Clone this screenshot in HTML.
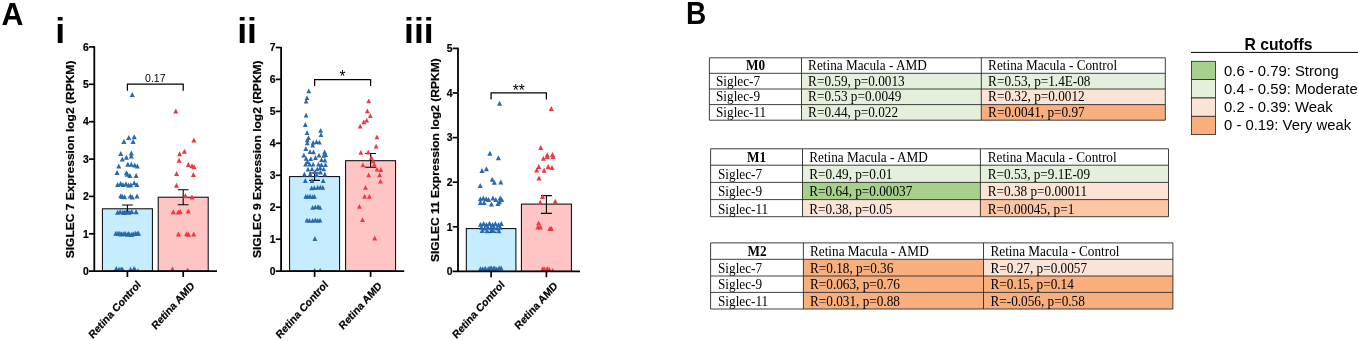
<!DOCTYPE html>
<html><head><meta charset="utf-8"><title>Figure</title>
<style>
html,body{margin:0;padding:0;background:#fff}
body{width:1358px;height:341px;overflow:hidden}
svg{display:block}
text{font-family:"Liberation Sans",Arial,Helvetica,sans-serif;fill:#000}
.cb{stroke:#000;stroke-width:.2px}
.ser{font-family:"Liberation Serif","Times New Roman",Times,serif}
</style></head><body>
<svg width="1358" height="341" viewBox="0 0 1358 341">
<defs><clipPath id="clip94"><rect x="0" y="0" width="700" height="271.2"/></clipPath><clipPath id="clip281"><rect x="0" y="0" width="700" height="271.1"/></clipPath><clipPath id="clip458"><rect x="0" y="0" width="700" height="271.4"/></clipPath></defs>
<rect width="1358" height="341" fill="#fff"/>

<text transform="translate(1.6 24.5) scale(1 1.04)" font-size="30.3" font-weight="bold">A</text>
<text x="55.2" y="43.2" font-size="35.6" font-weight="bold">i</text>
<text x="237.2" y="43.2" font-size="35.6" font-weight="bold">ii</text>
<text x="404.0" y="43.2" font-size="35.6" font-weight="bold">iii</text>
<text transform="translate(685.9 24.45) scale(1 1.12)" font-size="28.1" font-weight="bold">B</text>
<rect x="102.4" y="208.8" width="50.0" height="62.4" fill="#c6ecff" stroke="#000" stroke-width="1.0"/>
<rect x="158.2" y="197.2" width="50.0" height="74.0" fill="#ffc4c4" stroke="#000" stroke-width="1.0"/>
<path d="M127.4 212.1V205.0M122.0 205.0H132.8M122.0 212.1H132.8" stroke="#000" stroke-width="1.1" fill="none"/>
<path d="M183.2 204.7V189.7M177.8 189.7H188.6M177.8 204.7H188.6" stroke="#000" stroke-width="1.1" fill="none"/>
<g clip-path="url(#clip94)">
<path d="M129.75 97.12L134.85 97.12L132.30 92.08Z" fill="#2969ad"/>
<path d="M126.15 140.12L131.25 140.12L128.70 135.08Z" fill="#2969ad"/>
<path d="M131.75 139.22L136.85 139.22L134.30 134.18Z" fill="#2969ad"/>
<path d="M121.35 144.12L126.45 144.12L123.90 139.08Z" fill="#2969ad"/>
<path d="M130.55 144.12L135.65 144.12L133.10 139.08Z" fill="#2969ad"/>
<path d="M118.25 155.92L123.35 155.92L120.80 150.88Z" fill="#2969ad"/>
<path d="M128.75 155.62L133.85 155.62L131.30 150.58Z" fill="#2969ad"/>
<path d="M123.85 159.82L128.95 159.82L126.40 154.78Z" fill="#2969ad"/>
<path d="M119.75 161.62L124.85 161.62L122.30 156.58Z" fill="#2969ad"/>
<path d="M128.75 158.62L133.85 158.62L131.30 153.58Z" fill="#2969ad"/>
<path d="M116.25 168.62L121.35 168.62L118.80 163.58Z" fill="#2969ad"/>
<path d="M125.25 166.82L130.35 166.82L127.80 161.78Z" fill="#2969ad"/>
<path d="M128.75 166.82L133.85 166.82L131.30 161.78Z" fill="#2969ad"/>
<path d="M132.15 167.42L137.25 167.42L134.70 162.38Z" fill="#2969ad"/>
<path d="M134.75 168.62L139.85 168.62L137.30 163.58Z" fill="#2969ad"/>
<path d="M114.55 174.92L119.65 174.92L117.10 169.88Z" fill="#2969ad"/>
<path d="M123.85 175.32L128.95 175.32L126.40 170.28Z" fill="#2969ad"/>
<path d="M127.35 177.92L132.45 177.92L129.90 172.88Z" fill="#2969ad"/>
<path d="M133.55 177.92L138.65 177.92L136.10 172.88Z" fill="#2969ad"/>
<path d="M124.75 176.72L129.85 176.72L127.30 171.68Z" fill="#2969ad"/>
<path d="M115.05 187.12L120.15 187.12L117.60 182.08Z" fill="#2969ad"/>
<path d="M118.05 186.12L123.15 186.12L120.60 181.08Z" fill="#2969ad"/>
<path d="M120.45 186.92L125.55 186.92L123.00 181.88Z" fill="#2969ad"/>
<path d="M123.45 186.32L128.55 186.32L126.00 181.28Z" fill="#2969ad"/>
<path d="M128.25 187.32L133.35 187.32L130.80 182.28Z" fill="#2969ad"/>
<path d="M131.65 185.32L136.75 185.32L134.20 180.28Z" fill="#2969ad"/>
<path d="M134.35 187.12L139.45 187.12L136.90 182.08Z" fill="#2969ad"/>
<path d="M125.95 187.52L131.05 187.52L128.50 182.48Z" fill="#2969ad"/>
<path d="M118.25 198.22L123.35 198.22L120.80 193.18Z" fill="#2969ad"/>
<path d="M122.05 199.32L127.15 199.32L124.60 194.28Z" fill="#2969ad"/>
<path d="M127.75 198.62L132.85 198.62L130.30 193.58Z" fill="#2969ad"/>
<path d="M129.65 199.42L134.75 199.42L132.20 194.38Z" fill="#2969ad"/>
<path d="M134.45 198.42L139.55 198.42L137.00 193.38Z" fill="#2969ad"/>
<path d="M119.95 199.02L125.05 199.02L122.50 193.98Z" fill="#2969ad"/>
<path d="M115.05 214.72L120.15 214.72L117.60 209.68Z" fill="#2969ad"/>
<path d="M117.65 214.12L122.75 214.12L120.20 209.08Z" fill="#2969ad"/>
<path d="M120.35 214.82L125.45 214.82L122.90 209.78Z" fill="#2969ad"/>
<path d="M123.85 214.02L128.95 214.02L126.40 208.98Z" fill="#2969ad"/>
<path d="M126.45 214.72L131.55 214.72L129.00 209.68Z" fill="#2969ad"/>
<path d="M129.15 213.92L134.25 213.92L131.70 208.88Z" fill="#2969ad"/>
<path d="M133.55 214.32L138.65 214.32L136.10 209.28Z" fill="#2969ad"/>
<path d="M121.95 214.92L127.05 214.92L124.50 209.88Z" fill="#2969ad"/>
<path d="M113.27 235.84L118.37 235.84L115.82 230.79Z" fill="#2969ad"/>
<path d="M115.50 235.73L120.60 235.73L118.05 230.68Z" fill="#2969ad"/>
<path d="M117.29 236.14L122.39 236.14L119.84 231.09Z" fill="#2969ad"/>
<path d="M118.71 236.33L123.81 236.33L121.26 231.29Z" fill="#2969ad"/>
<path d="M120.59 236.23L125.69 236.23L123.14 231.18Z" fill="#2969ad"/>
<path d="M122.52 235.75L127.62 235.75L125.07 230.70Z" fill="#2969ad"/>
<path d="M124.77 236.78L129.87 236.78L127.32 231.73Z" fill="#2969ad"/>
<path d="M126.37 235.94L131.47 235.94L128.92 230.89Z" fill="#2969ad"/>
<path d="M128.78 236.95L133.88 236.95L131.33 231.90Z" fill="#2969ad"/>
<path d="M130.63 236.18L135.73 236.18L133.18 231.13Z" fill="#2969ad"/>
<path d="M132.93 235.69L138.03 235.69L135.48 230.64Z" fill="#2969ad"/>
<path d="M134.71 236.03L139.81 236.03L137.26 230.98Z" fill="#2969ad"/>
<path d="M135.89 235.79L140.99 235.79L138.44 230.74Z" fill="#2969ad"/>
<path d="M113.75 271.12L118.85 271.12L116.30 266.08Z" fill="#2969ad"/>
<path d="M116.45 271.82L121.55 271.82L119.00 266.78Z" fill="#2969ad"/>
<path d="M118.65 271.52L123.75 271.52L121.20 266.48Z" fill="#2969ad"/>
<path d="M120.05 272.12L125.15 272.12L122.60 267.08Z" fill="#2969ad"/>
<path d="M127.95 271.82L133.05 271.82L130.50 266.78Z" fill="#2969ad"/>
<path d="M131.45 271.12L136.55 271.12L134.00 266.08Z" fill="#2969ad"/>
<path d="M132.45 271.92L137.55 271.92L135.00 266.88Z" fill="#2969ad"/>
<path d="M135.45 273.32L140.55 273.32L138.00 268.28Z" fill="#2969ad"/>
<path d="M173.25 113.42L178.35 113.42L175.80 108.38Z" fill="#ee3842"/>
<path d="M191.35 142.42L196.45 142.42L193.90 137.38Z" fill="#ee3842"/>
<path d="M181.85 153.72L186.95 153.72L184.40 148.68Z" fill="#ee3842"/>
<path d="M177.05 156.32L182.15 156.32L179.60 151.28Z" fill="#ee3842"/>
<path d="M176.55 162.72L181.65 162.72L179.10 157.68Z" fill="#ee3842"/>
<path d="M185.85 166.92L190.95 166.92L188.40 161.88Z" fill="#ee3842"/>
<path d="M189.45 168.32L194.55 168.32L192.00 163.28Z" fill="#ee3842"/>
<path d="M191.55 169.22L196.65 169.22L194.10 164.18Z" fill="#ee3842"/>
<path d="M174.05 175.92L179.15 175.92L176.60 170.88Z" fill="#ee3842"/>
<path d="M190.85 177.12L195.95 177.12L193.40 172.08Z" fill="#ee3842"/>
<path d="M173.95 187.72L179.05 187.72L176.50 182.68Z" fill="#ee3842"/>
<path d="M182.75 198.32L187.85 198.32L185.30 193.28Z" fill="#ee3842"/>
<path d="M189.45 199.52L194.55 199.52L192.00 194.48Z" fill="#ee3842"/>
<path d="M170.75 214.22L175.85 214.22L173.30 209.18Z" fill="#ee3842"/>
<path d="M175.65 214.42L180.75 214.42L178.20 209.38Z" fill="#ee3842"/>
<path d="M177.65 213.92L182.75 213.92L180.20 208.88Z" fill="#ee3842"/>
<path d="M185.75 213.52L190.85 213.52L188.30 208.48Z" fill="#ee3842"/>
<path d="M175.85 236.52L180.95 236.52L178.40 231.48Z" fill="#ee3842"/>
<path d="M184.05 236.32L189.15 236.32L186.60 231.28Z" fill="#ee3842"/>
<path d="M185.95 236.72L191.05 236.72L188.50 231.68Z" fill="#ee3842"/>
<path d="M191.15 236.42L196.25 236.42L193.70 231.38Z" fill="#ee3842"/>
<path d="M169.85 271.52L174.95 271.52L172.40 266.48Z" fill="#ee3842"/>
<path d="M185.15 272.42L190.25 272.42L187.70 267.38Z" fill="#ee3842"/>
</g>
<path d="M94.3 46.3V271.9" stroke="#000" stroke-width="1.8" fill="none"/>
<path d="M89.0 271.2H217.0" stroke="#000" stroke-width="1.8" fill="none"/>
<text transform="translate(88.8 274.9) scale(1 1.11)" text-anchor="end" font-size="10.4" font-weight="bold" class="cb">0</text>
<path d="M89.0 233.8H94.3" stroke="#000" stroke-width="1.7"/>
<text transform="translate(88.8 237.5) scale(1 1.11)" text-anchor="end" font-size="10.4" font-weight="bold" class="cb">1</text>
<path d="M89.0 196.4H94.3" stroke="#000" stroke-width="1.7"/>
<text transform="translate(88.8 200.1) scale(1 1.11)" text-anchor="end" font-size="10.4" font-weight="bold" class="cb">2</text>
<path d="M89.0 159.1H94.3" stroke="#000" stroke-width="1.7"/>
<text transform="translate(88.8 162.8) scale(1 1.11)" text-anchor="end" font-size="10.4" font-weight="bold" class="cb">3</text>
<path d="M89.0 121.7H94.3" stroke="#000" stroke-width="1.7"/>
<text transform="translate(88.8 125.4) scale(1 1.11)" text-anchor="end" font-size="10.4" font-weight="bold" class="cb">4</text>
<path d="M89.0 84.3H94.3" stroke="#000" stroke-width="1.7"/>
<text transform="translate(88.8 88.0) scale(1 1.11)" text-anchor="end" font-size="10.4" font-weight="bold" class="cb">5</text>
<path d="M89.0 46.9H94.3" stroke="#000" stroke-width="1.7"/>
<text transform="translate(88.8 50.6) scale(1 1.11)" text-anchor="end" font-size="10.4" font-weight="bold" class="cb">6</text>
<path d="M127.4 271.2V277.0" stroke="#000" stroke-width="1.7"/>
<path d="M183.2 271.2V277.0" stroke="#000" stroke-width="1.7"/>
<text transform="translate(141.4 285.2) scale(1 1.11) rotate(-45)" text-anchor="end" font-size="10" font-weight="bold" class="cb">Retina Control</text>
<text transform="translate(195.0 286.6) scale(1 1.11) rotate(-45)" text-anchor="end" font-size="10" font-weight="bold" class="cb">Retina AMD</text>
<text transform="translate(74.0 60.6) rotate(-90) scale(1.135 1)" text-anchor="end" font-size="10.6" font-weight="bold" class="cb">SIGLEC 7 Expression log2 (RPKM)</text>
<path d="M127.4 90.8V84.2H183.2V90.8" stroke="#000" stroke-width="1.25" fill="none"/>
<text transform="translate(155.3 82.0) scale(1 1.08)" text-anchor="middle" font-size="10.5">0.17</text>
<rect x="289.6" y="176.6" width="50.0" height="94.5" fill="#c6ecff" stroke="#000" stroke-width="1.0"/>
<rect x="345.6" y="160.7" width="50.0" height="110.4" fill="#ffc4c4" stroke="#000" stroke-width="1.0"/>
<path d="M314.6 180.4V173.0M309.2 173.0H320.0M309.2 180.4H320.0" stroke="#000" stroke-width="1.1" fill="none"/>
<path d="M370.6 167.3V153.5M365.2 153.5H376.0M365.2 167.3H376.0" stroke="#000" stroke-width="1.1" fill="none"/>
<g clip-path="url(#clip281)">
<path d="M306.40 93.28L311.20 93.28L308.80 88.52Z" fill="#2969ad"/>
<path d="M304.60 99.98L309.40 99.98L307.00 95.22Z" fill="#2969ad"/>
<path d="M303.70 103.48L308.50 103.48L306.10 98.72Z" fill="#2969ad"/>
<path d="M303.70 117.58L308.50 117.58L306.10 112.82Z" fill="#2969ad"/>
<path d="M302.90 126.88L307.70 126.88L305.30 122.12Z" fill="#2969ad"/>
<path d="M304.70 135.08L309.50 135.08L307.10 130.32Z" fill="#2969ad"/>
<path d="M318.20 132.68L323.00 132.68L320.60 127.92Z" fill="#2969ad"/>
<path d="M318.60 137.08L323.40 137.08L321.00 132.32Z" fill="#2969ad"/>
<path d="M306.10 139.98L310.90 139.98L308.50 135.22Z" fill="#2969ad"/>
<path d="M304.90 142.28L309.70 142.28L307.30 137.52Z" fill="#2969ad"/>
<path d="M304.90 145.28L309.70 145.28L307.30 140.52Z" fill="#2969ad"/>
<path d="M310.80 144.68L315.60 144.68L313.20 139.92Z" fill="#2969ad"/>
<path d="M314.10 144.08L318.90 144.08L316.50 139.32Z" fill="#2969ad"/>
<path d="M317.00 144.48L321.80 144.48L319.40 139.72Z" fill="#2969ad"/>
<path d="M310.20 147.58L315.00 147.58L312.60 142.82Z" fill="#2969ad"/>
<path d="M303.40 151.08L308.20 151.08L305.80 146.32Z" fill="#2969ad"/>
<path d="M307.60 154.08L312.40 154.08L310.00 149.32Z" fill="#2969ad"/>
<path d="M311.10 154.28L315.90 154.28L313.50 149.52Z" fill="#2969ad"/>
<path d="M322.20 154.18L327.00 154.18L324.60 149.42Z" fill="#2969ad"/>
<path d="M301.40 157.58L306.20 157.58L303.80 152.82Z" fill="#2969ad"/>
<path d="M316.60 157.58L321.40 157.58L319.00 152.82Z" fill="#2969ad"/>
<path d="M321.30 157.68L326.10 157.68L323.70 152.92Z" fill="#2969ad"/>
<path d="M323.30 156.98L328.10 156.98L325.70 152.22Z" fill="#2969ad"/>
<path d="M303.70 160.78L308.50 160.78L306.10 156.02Z" fill="#2969ad"/>
<path d="M308.40 160.98L313.20 160.98L310.80 156.22Z" fill="#2969ad"/>
<path d="M322.50 162.38L327.30 162.38L324.90 157.62Z" fill="#2969ad"/>
<path d="M303.20 166.48L308.00 166.48L305.60 161.72Z" fill="#2969ad"/>
<path d="M307.30 166.48L312.10 166.48L309.70 161.72Z" fill="#2969ad"/>
<path d="M310.80 166.48L315.60 166.48L313.20 161.72Z" fill="#2969ad"/>
<path d="M316.10 166.48L320.90 166.48L318.50 161.72Z" fill="#2969ad"/>
<path d="M319.00 167.08L323.80 167.08L321.40 162.32Z" fill="#2969ad"/>
<path d="M323.10 167.08L327.90 167.08L325.50 162.32Z" fill="#2969ad"/>
<path d="M309.60 171.18L314.40 171.18L312.00 166.42Z" fill="#2969ad"/>
<path d="M314.90 171.18L319.70 171.18L317.30 166.42Z" fill="#2969ad"/>
<path d="M317.80 169.98L322.60 169.98L320.20 165.22Z" fill="#2969ad"/>
<path d="M321.30 171.18L326.10 171.18L323.70 166.42Z" fill="#2969ad"/>
<path d="M302.00 176.38L306.80 176.38L304.40 171.62Z" fill="#2969ad"/>
<path d="M307.80 176.38L312.60 176.38L310.20 171.62Z" fill="#2969ad"/>
<path d="M314.30 176.98L319.10 176.98L316.70 172.22Z" fill="#2969ad"/>
<path d="M322.50 176.38L327.30 176.38L324.90 171.62Z" fill="#2969ad"/>
<path d="M305.10 163.88L309.90 163.88L307.50 159.12Z" fill="#2969ad"/>
<path d="M313.10 159.88L317.90 159.88L315.50 155.12Z" fill="#2969ad"/>
<path d="M319.10 161.98L323.90 161.98L321.50 157.22Z" fill="#2969ad"/>
<path d="M305.60 171.58L310.40 171.58L308.00 166.82Z" fill="#2969ad"/>
<path d="M312.60 173.98L317.40 173.98L315.00 169.22Z" fill="#2969ad"/>
<path d="M318.10 174.58L322.90 174.58L320.50 169.82Z" fill="#2969ad"/>
<path d="M302.90 182.88L307.70 182.88L305.30 178.12Z" fill="#2969ad"/>
<path d="M309.60 182.88L314.40 182.88L312.00 178.12Z" fill="#2969ad"/>
<path d="M320.80 183.08L325.60 183.08L323.20 178.32Z" fill="#2969ad"/>
<path d="M309.21 190.29L314.01 190.29L311.61 185.54Z" fill="#2969ad"/>
<path d="M311.93 190.06L316.73 190.06L314.33 185.31Z" fill="#2969ad"/>
<path d="M315.24 189.85L320.04 189.85L317.64 185.10Z" fill="#2969ad"/>
<path d="M318.00 189.54L322.80 189.54L320.40 184.79Z" fill="#2969ad"/>
<path d="M320.36 189.68L325.16 189.68L322.76 184.93Z" fill="#2969ad"/>
<path d="M303.38 198.70L308.18 198.70L305.78 193.95Z" fill="#2969ad"/>
<path d="M305.29 198.86L310.09 198.86L307.69 194.11Z" fill="#2969ad"/>
<path d="M307.70 198.58L312.50 198.58L310.10 193.82Z" fill="#2969ad"/>
<path d="M310.32 198.97L315.12 198.97L312.72 194.22Z" fill="#2969ad"/>
<path d="M312.04 198.85L316.84 198.85L314.44 194.10Z" fill="#2969ad"/>
<path d="M310.23 209.75L315.03 209.75L312.63 205.00Z" fill="#2969ad"/>
<path d="M312.90 209.16L317.70 209.16L315.30 204.41Z" fill="#2969ad"/>
<path d="M315.61 208.99L320.41 208.99L318.01 204.24Z" fill="#2969ad"/>
<path d="M317.52 209.63L322.32 209.63L319.92 204.88Z" fill="#2969ad"/>
<path d="M304.55 222.56L309.35 222.56L306.95 217.81Z" fill="#2969ad"/>
<path d="M306.98 222.78L311.78 222.78L309.38 218.03Z" fill="#2969ad"/>
<path d="M310.24 222.66L315.04 222.66L312.64 217.91Z" fill="#2969ad"/>
<path d="M312.90 222.35L317.70 222.35L315.30 217.60Z" fill="#2969ad"/>
<path d="M315.26 222.69L320.06 222.69L317.66 217.94Z" fill="#2969ad"/>
<path d="M317.68 222.52L322.48 222.52L320.08 217.77Z" fill="#2969ad"/>
<path d="M312.50 240.88L317.30 240.88L314.90 236.12Z" fill="#2969ad"/>
<path d="M312.20 272.68L317.00 272.68L314.60 267.92Z" fill="#2969ad"/>
<path d="M317.80 272.68L322.60 272.68L320.20 267.92Z" fill="#2969ad"/>
<path d="M366.30 103.18L371.10 103.18L368.70 98.42Z" fill="#ee3842"/>
<path d="M364.90 113.18L369.70 113.18L367.30 108.42Z" fill="#ee3842"/>
<path d="M367.90 118.08L372.70 118.08L370.30 113.32Z" fill="#ee3842"/>
<path d="M364.30 122.48L369.10 122.48L366.70 117.72Z" fill="#ee3842"/>
<path d="M361.40 124.28L366.20 124.28L363.80 119.52Z" fill="#ee3842"/>
<path d="M357.80 128.48L362.60 128.48L360.20 123.72Z" fill="#ee3842"/>
<path d="M374.60 139.28L379.40 139.28L377.00 134.52Z" fill="#ee3842"/>
<path d="M373.70 148.58L378.50 148.58L376.10 143.82Z" fill="#ee3842"/>
<path d="M358.40 154.68L363.20 154.68L360.80 149.92Z" fill="#ee3842"/>
<path d="M365.80 154.38L370.60 154.38L368.20 149.62Z" fill="#ee3842"/>
<path d="M368.90 159.68L373.70 159.68L371.30 154.92Z" fill="#ee3842"/>
<path d="M370.70 163.18L375.50 163.18L373.10 158.42Z" fill="#ee3842"/>
<path d="M360.50 167.18L365.30 167.18L362.90 162.42Z" fill="#ee3842"/>
<path d="M371.90 166.68L376.70 166.68L374.30 161.92Z" fill="#ee3842"/>
<path d="M374.60 171.48L379.40 171.48L377.00 166.72Z" fill="#ee3842"/>
<path d="M378.40 171.98L383.20 171.98L380.80 167.22Z" fill="#ee3842"/>
<path d="M366.30 177.28L371.10 177.28L368.70 172.52Z" fill="#ee3842"/>
<path d="M377.20 177.28L382.00 177.28L379.60 172.52Z" fill="#ee3842"/>
<path d="M378.10 183.58L382.90 183.58L380.50 178.82Z" fill="#ee3842"/>
<path d="M363.10 189.78L367.90 189.78L365.50 185.02Z" fill="#ee3842"/>
<path d="M362.20 198.78L367.00 198.78L364.60 194.02Z" fill="#ee3842"/>
<path d="M367.00 198.78L371.80 198.78L369.40 194.02Z" fill="#ee3842"/>
<path d="M357.00 208.78L361.80 208.78L359.40 204.02Z" fill="#ee3842"/>
<path d="M360.10 221.98L364.90 221.98L362.50 217.22Z" fill="#ee3842"/>
<path d="M372.30 240.38L377.10 240.38L374.70 235.62Z" fill="#ee3842"/>
</g>
<path d="M281.1 46.9V271.8" stroke="#000" stroke-width="1.8" fill="none"/>
<path d="M275.8 271.1H404.2" stroke="#000" stroke-width="1.8" fill="none"/>
<text transform="translate(275.6 274.8) scale(1 1.11)" text-anchor="end" font-size="10.4" font-weight="bold" class="cb">0</text>
<path d="M275.8 239.2H281.1" stroke="#000" stroke-width="1.7"/>
<text transform="translate(275.6 242.9) scale(1 1.11)" text-anchor="end" font-size="10.4" font-weight="bold" class="cb">1</text>
<path d="M275.8 207.2H281.1" stroke="#000" stroke-width="1.7"/>
<text transform="translate(275.6 210.9) scale(1 1.11)" text-anchor="end" font-size="10.4" font-weight="bold" class="cb">2</text>
<path d="M275.8 175.3H281.1" stroke="#000" stroke-width="1.7"/>
<text transform="translate(275.6 179.0) scale(1 1.11)" text-anchor="end" font-size="10.4" font-weight="bold" class="cb">3</text>
<path d="M275.8 143.3H281.1" stroke="#000" stroke-width="1.7"/>
<text transform="translate(275.6 147.0) scale(1 1.11)" text-anchor="end" font-size="10.4" font-weight="bold" class="cb">4</text>
<path d="M275.8 111.4H281.1" stroke="#000" stroke-width="1.7"/>
<text transform="translate(275.6 115.1) scale(1 1.11)" text-anchor="end" font-size="10.4" font-weight="bold" class="cb">5</text>
<path d="M275.8 79.4H281.1" stroke="#000" stroke-width="1.7"/>
<text transform="translate(275.6 83.1) scale(1 1.11)" text-anchor="end" font-size="10.4" font-weight="bold" class="cb">6</text>
<path d="M275.8 47.5H281.1" stroke="#000" stroke-width="1.7"/>
<text transform="translate(275.6 51.2) scale(1 1.11)" text-anchor="end" font-size="10.4" font-weight="bold" class="cb">7</text>
<path d="M314.6 271.1V276.9" stroke="#000" stroke-width="1.7"/>
<path d="M370.6 271.1V276.9" stroke="#000" stroke-width="1.7"/>
<text transform="translate(328.6 285.2) scale(1 1.11) rotate(-45)" text-anchor="end" font-size="10" font-weight="bold" class="cb">Retina Control</text>
<text transform="translate(382.4 286.6) scale(1 1.11) rotate(-45)" text-anchor="end" font-size="10" font-weight="bold" class="cb">Retina AMD</text>
<text transform="translate(261.3 60.4) rotate(-90) scale(1.135 1)" text-anchor="end" font-size="10.6" font-weight="bold" class="cb">SIGLEC 9 Expression log2 (RPKM)</text>
<path d="M314.6 86.1V79.5H370.6V86.1" stroke="#000" stroke-width="1.25" fill="none"/>
<text transform="translate(342.6 82.3) scale(1 1.1)" text-anchor="middle" font-size="15.5">*</text>
<rect x="466.3" y="228.6" width="49.6" height="42.8" fill="#c6ecff" stroke="#000" stroke-width="1.0"/>
<rect x="521.4" y="204.1" width="50.0" height="67.3" fill="#ffc4c4" stroke="#000" stroke-width="1.0"/>
<path d="M491.1 232.2V225.0M485.7 225.0H496.5M485.7 232.2H496.5" stroke="#000" stroke-width="1.1" fill="none"/>
<path d="M546.4 213.4V195.6M541.0 195.6H551.8M541.0 213.4H551.8" stroke="#000" stroke-width="1.1" fill="none"/>
<g clip-path="url(#clip458)">
<path d="M497.05 105.82L502.15 105.82L499.60 100.78Z" fill="#2969ad"/>
<path d="M487.35 155.72L492.45 155.72L489.90 150.68Z" fill="#2969ad"/>
<path d="M495.85 160.32L500.95 160.32L498.40 155.28Z" fill="#2969ad"/>
<path d="M479.45 173.02L484.55 173.02L482.00 167.98Z" fill="#2969ad"/>
<path d="M483.85 171.32L488.95 171.32L486.40 166.28Z" fill="#2969ad"/>
<path d="M489.65 181.82L494.75 181.82L492.20 176.78Z" fill="#2969ad"/>
<path d="M491.75 184.82L496.85 184.82L494.30 179.78Z" fill="#2969ad"/>
<path d="M498.25 184.52L503.35 184.52L500.80 179.48Z" fill="#2969ad"/>
<path d="M477.65 188.02L482.75 188.02L480.20 182.98Z" fill="#2969ad"/>
<path d="M477.85 201.32L482.95 201.32L480.40 196.28Z" fill="#2969ad"/>
<path d="M480.75 200.62L485.85 200.62L483.30 195.58Z" fill="#2969ad"/>
<path d="M483.75 201.32L488.85 201.32L486.30 196.28Z" fill="#2969ad"/>
<path d="M485.95 202.02L491.05 202.02L488.50 196.98Z" fill="#2969ad"/>
<path d="M490.35 200.62L495.45 200.62L492.90 195.58Z" fill="#2969ad"/>
<path d="M493.25 202.02L498.35 202.02L495.80 196.98Z" fill="#2969ad"/>
<path d="M497.65 200.62L502.75 200.62L500.20 195.58Z" fill="#2969ad"/>
<path d="M499.15 202.02L504.25 202.02L501.70 196.98Z" fill="#2969ad"/>
<path d="M477.85 205.02L482.95 205.02L480.40 199.98Z" fill="#2969ad"/>
<path d="M481.55 205.02L486.65 205.02L484.10 199.98Z" fill="#2969ad"/>
<path d="M488.85 206.42L493.95 206.42L491.40 201.38Z" fill="#2969ad"/>
<path d="M495.45 206.02L500.55 206.02L498.00 200.98Z" fill="#2969ad"/>
<path d="M496.95 204.22L502.05 204.22L499.50 199.18Z" fill="#2969ad"/>
<path d="M477.95 226.72L483.05 226.72L480.50 221.68Z" fill="#2969ad"/>
<path d="M481.05 225.92L486.15 225.92L483.60 220.88Z" fill="#2969ad"/>
<path d="M483.85 227.12L488.95 227.12L486.40 222.08Z" fill="#2969ad"/>
<path d="M486.95 225.72L492.05 225.72L489.50 220.68Z" fill="#2969ad"/>
<path d="M490.05 226.92L495.15 226.92L492.60 221.88Z" fill="#2969ad"/>
<path d="M492.85 226.12L497.95 226.12L495.40 221.08Z" fill="#2969ad"/>
<path d="M496.05 227.02L501.15 227.02L498.60 221.98Z" fill="#2969ad"/>
<path d="M498.75 226.02L503.85 226.02L501.30 220.98Z" fill="#2969ad"/>
<path d="M478.85 229.82L483.95 229.82L481.40 224.78Z" fill="#2969ad"/>
<path d="M482.05 230.42L487.15 230.42L484.60 225.38Z" fill="#2969ad"/>
<path d="M485.15 229.52L490.25 229.52L487.70 224.48Z" fill="#2969ad"/>
<path d="M488.35 230.32L493.45 230.32L490.90 225.28Z" fill="#2969ad"/>
<path d="M491.45 229.62L496.55 229.62L494.00 224.58Z" fill="#2969ad"/>
<path d="M494.65 230.42L499.75 230.42L497.20 225.38Z" fill="#2969ad"/>
<path d="M497.65 229.72L502.75 229.72L500.20 224.68Z" fill="#2969ad"/>
<path d="M479.65 232.92L484.75 232.92L482.20 227.88Z" fill="#2969ad"/>
<path d="M484.55 233.32L489.65 233.32L487.10 228.28Z" fill="#2969ad"/>
<path d="M490.65 233.02L495.75 233.02L493.20 227.98Z" fill="#2969ad"/>
<path d="M496.35 233.22L501.45 233.22L498.90 228.18Z" fill="#2969ad"/>
<path d="M477.87 271.36L482.97 271.36L480.42 266.31Z" fill="#2969ad"/>
<path d="M479.91 271.64L485.01 271.64L482.46 266.59Z" fill="#2969ad"/>
<path d="M481.72 271.62L486.82 271.62L484.27 266.57Z" fill="#2969ad"/>
<path d="M482.87 270.98L487.97 270.98L485.42 265.93Z" fill="#2969ad"/>
<path d="M485.65 271.23L490.75 271.23L488.20 266.18Z" fill="#2969ad"/>
<path d="M487.47 270.48L492.57 270.48L490.02 265.43Z" fill="#2969ad"/>
<path d="M488.90 270.67L494.00 270.67L491.45 265.62Z" fill="#2969ad"/>
<path d="M490.84 271.13L495.94 271.13L493.39 266.08Z" fill="#2969ad"/>
<path d="M492.17 270.63L497.27 270.63L494.72 265.58Z" fill="#2969ad"/>
<path d="M494.30 271.61L499.40 271.61L496.85 266.56Z" fill="#2969ad"/>
<path d="M496.65 270.55L501.75 270.55L499.20 265.50Z" fill="#2969ad"/>
<path d="M498.55 270.52L503.65 270.52L501.10 265.47Z" fill="#2969ad"/>
<path d="M548.75 111.02L553.85 111.02L551.30 105.98Z" fill="#ee3842"/>
<path d="M538.25 150.02L543.35 150.02L540.80 144.98Z" fill="#ee3842"/>
<path d="M544.75 157.32L549.85 157.32L547.30 152.28Z" fill="#ee3842"/>
<path d="M549.95 157.02L555.05 157.02L552.50 151.98Z" fill="#ee3842"/>
<path d="M540.85 160.72L545.95 160.72L543.40 155.68Z" fill="#ee3842"/>
<path d="M544.75 158.92L549.85 158.92L547.30 153.88Z" fill="#ee3842"/>
<path d="M550.55 158.92L555.65 158.92L553.10 153.88Z" fill="#ee3842"/>
<path d="M536.25 169.02L541.35 169.02L538.80 163.98Z" fill="#ee3842"/>
<path d="M534.15 172.52L539.25 172.52L536.70 167.48Z" fill="#ee3842"/>
<path d="M541.55 172.72L546.65 172.72L544.10 167.68Z" fill="#ee3842"/>
<path d="M545.65 169.12L550.75 169.12L548.20 164.08Z" fill="#ee3842"/>
<path d="M549.45 170.02L554.55 170.02L552.00 164.98Z" fill="#ee3842"/>
<path d="M536.45 180.42L541.55 180.42L539.00 175.38Z" fill="#ee3842"/>
<path d="M539.95 199.12L545.05 199.12L542.50 194.08Z" fill="#ee3842"/>
<path d="M537.65 204.72L542.75 204.72L540.20 199.68Z" fill="#ee3842"/>
<path d="M552.65 203.82L557.75 203.82L555.20 198.78Z" fill="#ee3842"/>
<path d="M536.15 225.42L541.25 225.42L538.70 220.38Z" fill="#ee3842"/>
<path d="M535.35 229.42L540.45 229.42L537.90 224.38Z" fill="#ee3842"/>
<path d="M537.85 229.42L542.95 229.42L540.40 224.38Z" fill="#ee3842"/>
<path d="M547.35 231.12L552.45 231.12L549.90 226.08Z" fill="#ee3842"/>
<path d="M548.85 231.12L553.95 231.12L551.40 226.08Z" fill="#ee3842"/>
<path d="M540.25 271.12L545.35 271.12L542.80 266.08Z" fill="#ee3842"/>
<path d="M542.05 271.42L547.15 271.42L544.60 266.38Z" fill="#ee3842"/>
<path d="M544.75 270.92L549.85 270.92L547.30 265.88Z" fill="#ee3842"/>
<path d="M546.75 271.82L551.85 271.82L549.30 266.78Z" fill="#ee3842"/>
<path d="M550.05 273.12L555.15 273.12L552.60 268.08Z" fill="#ee3842"/>
</g>
<path d="M458.0 47.8V272.1" stroke="#000" stroke-width="1.8" fill="none"/>
<path d="M452.7 271.4H580.0" stroke="#000" stroke-width="1.8" fill="none"/>
<text transform="translate(452.5 275.1) scale(1 1.11)" text-anchor="end" font-size="10.4" font-weight="bold" class="cb">0</text>
<path d="M452.7 226.8H458.0" stroke="#000" stroke-width="1.7"/>
<text transform="translate(452.5 230.5) scale(1 1.11)" text-anchor="end" font-size="10.4" font-weight="bold" class="cb">1</text>
<path d="M452.7 182.2H458.0" stroke="#000" stroke-width="1.7"/>
<text transform="translate(452.5 185.9) scale(1 1.11)" text-anchor="end" font-size="10.4" font-weight="bold" class="cb">2</text>
<path d="M452.7 137.6H458.0" stroke="#000" stroke-width="1.7"/>
<text transform="translate(452.5 141.3) scale(1 1.11)" text-anchor="end" font-size="10.4" font-weight="bold" class="cb">3</text>
<path d="M452.7 93.0H458.0" stroke="#000" stroke-width="1.7"/>
<text transform="translate(452.5 96.7) scale(1 1.11)" text-anchor="end" font-size="10.4" font-weight="bold" class="cb">4</text>
<path d="M452.7 48.4H458.0" stroke="#000" stroke-width="1.7"/>
<text transform="translate(452.5 52.1) scale(1 1.11)" text-anchor="end" font-size="10.4" font-weight="bold" class="cb">5</text>
<path d="M491.1 271.4V277.2" stroke="#000" stroke-width="1.7"/>
<path d="M546.4 271.4V277.2" stroke="#000" stroke-width="1.7"/>
<text transform="translate(505.1 285.2) scale(1 1.11) rotate(-45)" text-anchor="end" font-size="10" font-weight="bold" class="cb">Retina Control</text>
<text transform="translate(558.2 286.6) scale(1 1.11) rotate(-45)" text-anchor="end" font-size="10" font-weight="bold" class="cb">Retina AMD</text>
<text transform="translate(438.6 58.3) rotate(-90) scale(1.135 1)" text-anchor="end" font-size="10.6" font-weight="bold" class="cb">SIGLEC 11 Expression log2 (RPKM)</text>
<path d="M491.1 99.5V92.9H546.4V99.5" stroke="#000" stroke-width="1.25" fill="none"/>
<text transform="translate(518.8 95.7) scale(1 1.1)" text-anchor="middle" font-size="15.5">**</text>
<rect x="801.5" y="73.3" width="179.8" height="15.7" fill="#e4f0db"/>
<rect x="981.3" y="73.3" width="184.0" height="15.7" fill="#e4f0db"/>
<rect x="801.5" y="89.0" width="179.8" height="15.6" fill="#e4f0db"/>
<rect x="981.3" y="89.0" width="184.0" height="15.6" fill="#fbe4d5"/>
<rect x="801.5" y="104.6" width="179.8" height="15.6" fill="#e4f0db"/>
<rect x="981.3" y="104.6" width="184.0" height="15.6" fill="#f9af7d"/>
<path d="M709.4 57.8H1165.3M709.4 73.3H1165.3M709.4 89.0H1165.3M709.4 104.6H1165.3M709.4 120.2H1165.3M709.4 57.8V120.2M801.5 57.8V120.2M981.3 57.8V120.2M1165.3 57.8V120.2" stroke="#2a2a2a" stroke-width="0.9" fill="none"/>
<text class="ser" transform="translate(755.5 70.1) scale(1 1.16)" text-anchor="middle" font-weight="bold" font-size="13.25">M0</text>
<text class="ser" transform="translate(808.1 70.1) scale(1 1.16)" font-size="13.25">Retina Macula - AMD</text>
<text class="ser" transform="translate(988.1 70.1) scale(1 1.16)" font-size="13.25">Retina Macula - Control</text>
<text class="ser" transform="translate(716 85.8) scale(1 1.16)" font-size="13.25">Siglec-7</text>
<text class="ser" transform="translate(808.1 85.8) scale(1 1.16)" font-size="13.25">R=0.59, p=0.0013</text>
<text class="ser" transform="translate(988.1 85.8) scale(1 1.16)" font-size="13.25">R=0.53, p=1.4E-08</text>
<text class="ser" transform="translate(716 101.4) scale(1 1.16)" font-size="13.25">Siglec-9</text>
<text class="ser" transform="translate(808.1 101.4) scale(1 1.16)" font-size="13.25">R=0.53 p=0.0049</text>
<text class="ser" transform="translate(988.1 101.4) scale(1 1.16)" font-size="13.25">R=0.32, p=0.0012</text>
<text class="ser" transform="translate(716 117.0) scale(1 1.16)" font-size="13.25">Siglec-11</text>
<text class="ser" transform="translate(808.1 117.0) scale(1 1.16)" font-size="13.25">R=0.44, p=0.022</text>
<text class="ser" transform="translate(988.1 117.0) scale(1 1.16)" font-size="13.25">R=0.0041, p=0.97</text>
<rect x="802.5" y="165.2" width="177.9" height="17.2" fill="#e4f0db"/>
<rect x="980.4" y="165.2" width="188.1" height="17.2" fill="#e4f0db"/>
<rect x="802.5" y="182.4" width="177.9" height="17.2" fill="#a8d08d"/>
<rect x="980.4" y="182.4" width="188.1" height="17.2" fill="#fbe4d5"/>
<rect x="802.5" y="199.6" width="177.9" height="17.1" fill="#fbe4d5"/>
<rect x="980.4" y="199.6" width="188.1" height="17.1" fill="#fac6a6"/>
<path d="M710.6 148.8H1168.5M710.6 165.2H1168.5M710.6 182.4H1168.5M710.6 199.6H1168.5M710.6 216.7H1168.5M710.6 148.8V216.7M802.5 148.8V216.7M980.4 148.8V216.7M1168.5 148.8V216.7" stroke="#2a2a2a" stroke-width="0.9" fill="none"/>
<text class="ser" transform="translate(756.5 162.4) scale(1 1.16)" text-anchor="middle" font-weight="bold" font-size="13.25">M1</text>
<text class="ser" transform="translate(809.2 162.4) scale(1 1.16)" font-size="13.25">Retina Macula - AMD</text>
<text class="ser" transform="translate(987.7 162.4) scale(1 1.16)" font-size="13.25">Retina Macula - Control</text>
<text class="ser" transform="translate(718 179.2) scale(1 1.16)" font-size="13.25">Siglec-7</text>
<text class="ser" transform="translate(809.2 179.2) scale(1 1.16)" font-size="13.25">R=0.49, p=0.01</text>
<text class="ser" transform="translate(987.7 179.2) scale(1 1.16)" font-size="13.25">R=0.53, p=9.1E-09</text>
<text class="ser" transform="translate(718 196.4) scale(1 1.16)" font-size="13.25">Siglec-9</text>
<text class="ser" transform="translate(809.2 196.4) scale(1 1.16)" font-size="13.25">R=0.64, p=0.00037</text>
<text class="ser" transform="translate(987.7 196.4) scale(1 1.16)" font-size="13.25">R=0.38 p=0.00011</text>
<text class="ser" transform="translate(718 213.5) scale(1 1.16)" font-size="13.25">Siglec-11</text>
<text class="ser" transform="translate(809.2 213.5) scale(1 1.16)" font-size="13.25">R=0.38, p=0.05</text>
<text class="ser" transform="translate(987.7 213.5) scale(1 1.16)" font-size="13.25">R=0.00045, p=1</text>
<rect x="803.4" y="259.3" width="180.1" height="16.7" fill="#f9af7d"/>
<rect x="983.5" y="259.3" width="189.4" height="16.7" fill="#fbe4d5"/>
<rect x="803.4" y="276.0" width="180.1" height="16.4" fill="#f9af7d"/>
<rect x="983.5" y="276.0" width="189.4" height="16.4" fill="#f9af7d"/>
<rect x="803.4" y="292.4" width="180.1" height="16.6" fill="#f9af7d"/>
<rect x="983.5" y="292.4" width="189.4" height="16.6" fill="#f9af7d"/>
<path d="M710.6 242.9H1172.9M710.6 259.3H1172.9M710.6 276.0H1172.9M710.6 292.4H1172.9M710.6 309.0H1172.9M710.6 242.9V309.0M803.4 242.9V309.0M983.5 242.9V309.0M1172.9 242.9V309.0" stroke="#2a2a2a" stroke-width="0.9" fill="none"/>
<text class="ser" transform="translate(757.0 256.0) scale(1 1.16)" text-anchor="middle" font-weight="bold" font-size="13.25">M2</text>
<text class="ser" transform="translate(810 256.0) scale(1 1.16)" font-size="13.25">Retina Macula - AMD</text>
<text class="ser" transform="translate(990.5 256.0) scale(1 1.16)" font-size="13.25">Retina Macula - Control</text>
<text class="ser" transform="translate(718 272.6) scale(1 1.16)" font-size="13.25">Siglec-7</text>
<text class="ser" transform="translate(810 272.6) scale(1 1.16)" font-size="13.25">R=0.18, p=0.36</text>
<text class="ser" transform="translate(990.5 272.6) scale(1 1.16)" font-size="13.25">R=0.27, p=0.0057</text>
<text class="ser" transform="translate(718 289.1) scale(1 1.16)" font-size="13.25">Siglec-9</text>
<text class="ser" transform="translate(810 289.1) scale(1 1.16)" font-size="13.25">R=0.063, p=0.76</text>
<text class="ser" transform="translate(990.5 289.1) scale(1 1.16)" font-size="13.25">R=0.15, p=0.14</text>
<text class="ser" transform="translate(718 305.6) scale(1 1.16)" font-size="13.25">Siglec-11</text>
<text class="ser" transform="translate(810 305.6) scale(1 1.16)" font-size="13.25">R=0.031, p=0.88</text>
<text class="ser" transform="translate(990.5 305.6) scale(1 1.16)" font-size="13.25">R=-0.056, p=0.58</text>
<text x="1278.5" y="49.7" text-anchor="middle" font-size="15.7" font-weight="bold">R cutoffs</text>
<path d="M1191 52.4H1358" stroke="#000" stroke-width="1"/>
<rect x="1191.4" y="61.3" width="24.2" height="18.33" fill="#a8d08d" stroke="#222" stroke-width="0.8"/>
<text x="1224.0" y="75.7" font-size="14.85">0.6 - 0.79: Strong</text>
<rect x="1191.4" y="79.6" width="24.2" height="18.33" fill="#e4f0db" stroke="#222" stroke-width="0.8"/>
<text x="1224.0" y="93.7" font-size="14.85">0.4 - 0.59: Moderate</text>
<rect x="1191.4" y="98.0" width="24.2" height="18.33" fill="#fbe4d5" stroke="#222" stroke-width="0.8"/>
<text x="1224.0" y="111.6" font-size="14.85">0.2 - 0.39: Weak</text>
<rect x="1191.4" y="116.3" width="24.2" height="18.33" fill="#f9af7d" stroke="#222" stroke-width="0.8"/>
<text x="1224.0" y="129.6" font-size="14.85">0 - 0.19: Very weak</text>
</svg></body></html>
